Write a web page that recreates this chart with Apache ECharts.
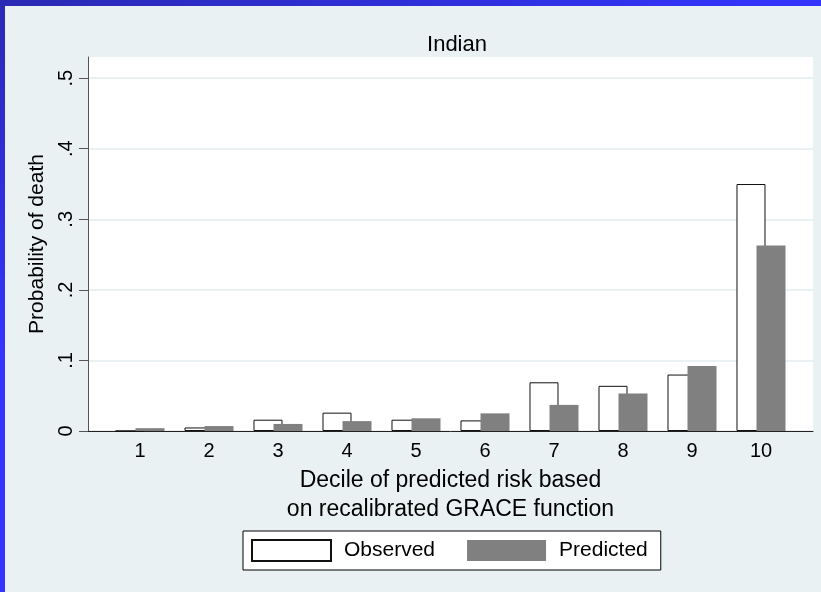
<!DOCTYPE html>
<html>
<head>
<meta charset="utf-8">
<script src="https://cdn.jsdelivr.net/npm/echarts@6/dist/echarts.min.js"></script>
<style>
  html, body { margin: 0; padding: 0; }
  #wrap { position: relative; width: 821px; height: 592px; overflow: hidden; background: #EAF1F3; }
  #topbar { position: absolute; left: 0; top: 0; width: 821px; height: 6px; background: linear-gradient(to right, #2a2ab4, #3434ff); }
  #leftbar { position: absolute; left: 0; top: 0; width: 5px; height: 592px; background: linear-gradient(to bottom, #2a2ab4, #3434ff 60%); }
  #chart { position: absolute; left: 0; top: 0; width: 821px; height: 592px; }
</style>
</head>
<body>
<div id="wrap">
  <div id="topbar"></div>
  <div id="leftbar"></div>
  <div id="chart"></div>
</div>
<script>
const categories = ['1', '2', '3', '4', '5', '6', '7', '8', '9', '10'];
const observed = [0, 0.005, 0.016, 0.026, 0.016, 0.015, 0.069, 0.064, 0.080, 0.350];
const predicted = [0.004, 0.007, 0.010, 0.014, 0.018, 0.025, 0.037, 0.053, 0.092, 0.263];
const yTicks = [0, 0.1, 0.2, 0.3, 0.4, 0.5];
const titleText = 'Indian';
const xTitle = 'Decile of predicted risk based\non recalibrated GRACE function';
const yTitle = 'Probability of death';
const seriesNames = ['Observed', 'Predicted'];

const FONT = 'Liberation Sans, Arial, Helvetica, sans-serif';
const yMax = 0.53;

const chart = echarts.init(document.getElementById('chart'), null, { renderer: 'canvas' });
chart.setOption({
  backgroundColor: 'transparent',
  animation: false,
  textStyle: { fontFamily: FONT, color: '#000' },
  title: {
    text: titleText, left: 452, top: 29, textAlign: 'center',
    textStyle: { fontFamily: FONT, fontSize: 22, fontWeight: 'normal', color: '#000' }
  },
  legend: {
    data: seriesNames, left: 243, top: 531, orient: 'horizontal',
    icon: 'rect', itemWidth: 79, itemHeight: 21, itemGap: 32,
    backgroundColor: '#fff', borderColor: '#000', borderWidth: 1,
    padding: [8, 13, 8, 8],
    textStyle: { fontFamily: FONT, fontSize: 21, color: '#000', padding: [0, 0, 0, 8] }
  },
  grid: [
    { left: 88, right: 8, top: 57, bottom: 161, show: true, backgroundColor: '#fff', borderWidth: 0 },
    { left: 105.5, width: 690, top: 57, bottom: 161 }
  ],
  xAxis: [
    { type: 'value', gridIndex: 0, min: 0, max: 1, axisLine: { show: true, onZero: false, lineStyle: { color: '#222', width: 1 } },
      axisTick: { show: false }, axisLabel: { show: false }, splitLine: { show: false } },
    { type: 'category', gridIndex: 1, data: categories, axisLine: { show: false }, axisTick: { show: false },
      axisLabel: { fontFamily: FONT, fontSize: 20, color: '#000', margin: 10 },
      name: xTitle, nameLocation: 'middle', nameGap: 32,
      nameTextStyle: { fontFamily: FONT, fontSize: 23, color: '#000', lineHeight: 29 } }
  ],
  yAxis: [
    { type: 'value', gridIndex: 0, min: 0, max: yMax, interval: 0.1,
      axisLine: { show: true, lineStyle: { color: '#555', width: 1 } },
      axisTick: { show: true, length: 9, customValues: yTicks, lineStyle: { color: '#555' } },
      axisLabel: { rotate: 90, margin: 12, fontFamily: FONT, fontSize: 20, color: '#000', customValues: yTicks,
        formatter: v => { const s = Number(v.toFixed(1)); return s === 0 ? '0' : String(s).replace(/^0/, ''); } },
      splitLine: { show: true, lineStyle: { color: '#E4EDEF', width: 1.5 } },
      name: yTitle, nameLocation: 'middle', nameRotate: 90, nameGap: 35,
      nameTextStyle: { fontFamily: FONT, fontSize: 21, color: '#000' } },
    { type: 'value', gridIndex: 1, min: 0, max: yMax, show: false, splitLine: { show: false } }
  ],
  series: [
    { name: seriesNames[0], type: 'bar', xAxisIndex: 1, yAxisIndex: 1, data: observed,
      barWidth: 29, barGap: '-31%',
      itemStyle: { color: '#fff', borderColor: '#111', borderWidth: 1 } },
    { name: seriesNames[1], type: 'bar', xAxisIndex: 1, yAxisIndex: 1, data: predicted,
      barWidth: 29, barGap: '-31%',
      itemStyle: { color: '#808080', borderColor: '#888', borderWidth: 0 } }
  ]
});
</script>
</body>
</html>
